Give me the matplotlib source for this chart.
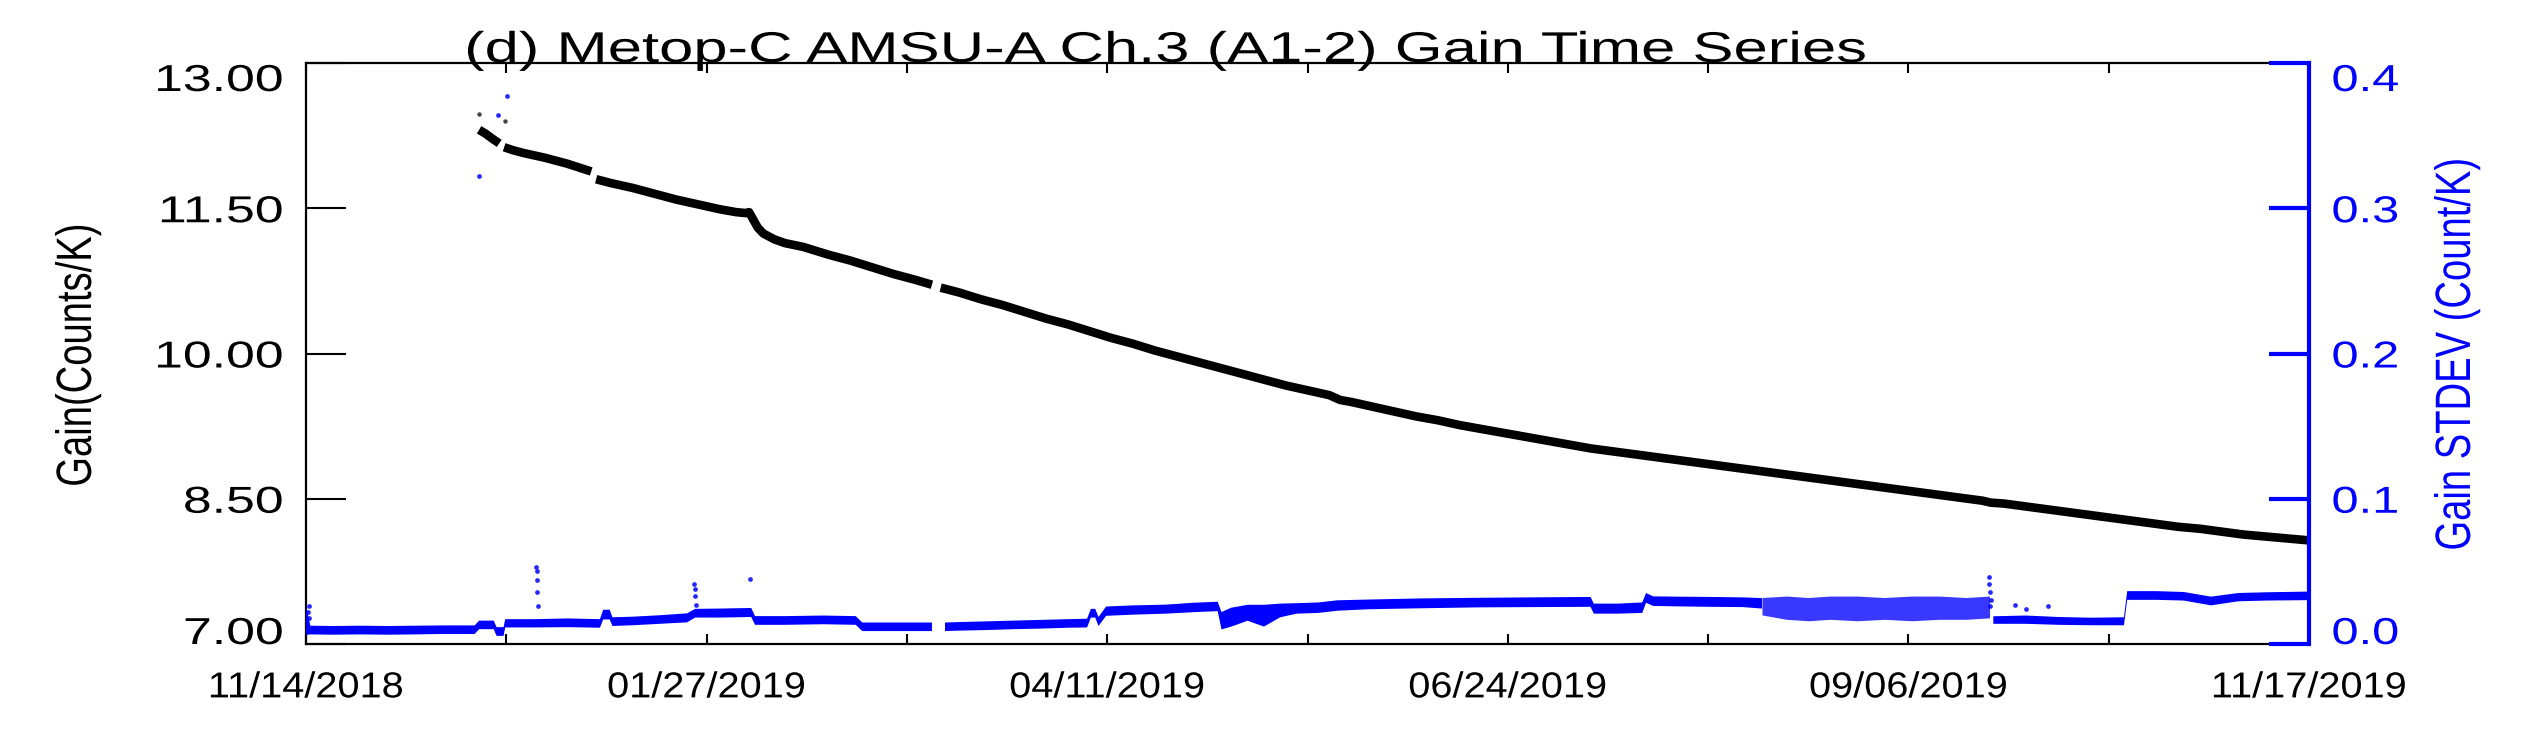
import numpy as np
import matplotlib
matplotlib.use("Agg")
import matplotlib.pyplot as plt
import matplotlib.patheffects as pe
from matplotlib.transforms import Affine2D

nan = float("nan")

# ---------------- data (days since 11/14/2018) ----------------
span_days = 368
date_labels = ["11/14/2018", "01/27/2019", "04/11/2019", "06/24/2019", "09/06/2019", "11/17/2019"]
gain_ticks = [7.0, 8.5, 10.0, 11.5, 13.0]
gain_tick_labels = ["7.00", "8.50", "10.00", "11.50", "13.00"]
std_ticks = [0.0, 0.1, 0.2, 0.3, 0.4]
std_tick_labels = ["0.0", "0.1", "0.2", "0.3", "0.4"]

title = "(d) Metop-C AMSU-A Ch.3 (A1-2) Gain Time Series"
ylabel_left = "Gain(Counts/K)"
ylabel_right = "Gain STDEV (Count/K)"

# Gain (black)
gain_days = [31.8, 33.0, 34.2, 35.5, 35.9, 36.4, 38, 40, 44, 48, 52.4, 52.9, 53.3, 56, 60, 64, 68, 72, 76,
             79, 80.8, 81.4, 82.0, 83.0, 84.0, 86, 88, 91.4, 96, 100, 104, 108, 112, 115, 115.8, 116.6,
             120, 124, 128, 132, 136, 140, 144, 148, 152, 156, 160, 164, 168, 172, 176, 180, 184, 188,
             190, 192, 196, 200, 204, 208, 212, 216, 220, 224, 228, 232, 236, 240, 244, 248, 252, 256,
             260, 264, 268, 272, 276, 280, 284, 288, 292, 296, 300, 304, 308, 309.5, 312, 316, 320, 324,
             328, 332, 336, 340, 344, 348, 352, 356, 360, 364, 368]
gain_vals = [12.31, 12.27, 12.22, 12.17, nan, 12.13, 12.10, 12.07, 12.02, 11.96, 11.88, nan, 11.80, 11.76,
             11.71, 11.65, 11.59, 11.54, 11.49, 11.46, 11.45, 11.46, 11.40, 11.30, 11.24, 11.18, 11.14,
             11.10, 11.02, 10.96, 10.89, 10.82, 10.76, 10.71, nan, 10.68, 10.63, 10.56, 10.50, 10.43,
             10.36, 10.30, 10.23, 10.16, 10.10, 10.03, 9.97, 9.91, 9.85, 9.79, 9.73, 9.67, 9.62, 9.57,
             9.52, 9.50, 9.45, 9.40, 9.35, 9.31, 9.26, 9.22, 9.18, 9.14, 9.10, 9.06, 9.02, 8.99, 8.96,
             8.93, 8.90, 8.87, 8.84, 8.81, 8.78, 8.75, 8.72, 8.69, 8.66, 8.63, 8.60, 8.57, 8.54, 8.51,
             8.48, 8.46, 8.45, 8.42, 8.39, 8.36, 8.33, 8.30, 8.27, 8.24, 8.21, 8.19, 8.16, 8.13, 8.11,
             8.09, 8.07]
gain_out_days = [31.8, 36.6]
gain_out_vals = [12.47, 12.40]

# Gain STDEV (blue) band: lower / upper envelope
std_days = [0, 0.8, 5, 10, 15, 20, 25, 31, 31.8, 34.5, 35.0, 36.3, 36.6, 42, 48, 54, 54.6, 55.8, 56.3,
            60, 65, 70, 71.5, 76, 81.8, 82.5, 88, 95, 101, 102.2, 106, 110, 115, 115.6, 117.4, 120,
            125, 130, 135, 140, 143.5, 144.2, 145, 145.6, 147, 152, 158, 163, 167.5, 168.2, 170, 173,
            176, 179, 182, 186, 189.5, 195, 205, 215, 225, 236, 236.6, 241, 245.5, 246.2, 247.5, 252,
            258, 264, 267.5, 309.5, 310, 316, 322, 328, 334, 334.6, 340, 345, 350, 355, 360, 368]
std_low = [0.0063, 0.0066, 0.0064, 0.0066, 0.0064, 0.0066, 0.0069, 0.0069, 0.0102, 0.0102, 0.0056, 0.0056,
           0.0114, 0.0114, 0.0116, 0.0112, 0.0169, 0.0169, 0.0124, 0.0129, 0.0139, 0.0149, 0.0182,
           0.0182, 0.0186, 0.0132, 0.0132, 0.0136, 0.0132, 0.0089, 0.0089, 0.0089, 0.0089, nan,
           0.0089, 0.0092, 0.0096, 0.0102, 0.0106, 0.0112, 0.0114, 0.0182, 0.0182, 0.0124, 0.0194,
           0.0202, 0.0209, 0.0219, 0.0226, 0.0100, 0.0120, 0.0160, 0.0120, 0.0184, 0.0209, 0.0214,
           0.0229, 0.0239, 0.0246, 0.0252, 0.0254, 0.0256, 0.0209, 0.0209, 0.0214, 0.0284, 0.0262,
           0.0259, 0.0256, 0.0254, 0.0244, nan, 0.0139, 0.0139, 0.0132, 0.0129, 0.0129, 0.0304,
           0.0304, 0.0299, 0.0266, 0.0294, 0.0299, 0.0302]
std_high = [0.0270, 0.0126, 0.0124, 0.0126, 0.0124, 0.0126, 0.0128, 0.0128, 0.0161, 0.0161, 0.0116, 0.0116,
            0.0171, 0.0171, 0.0176, 0.0171, 0.0236, 0.0236, 0.0184, 0.0188, 0.0198, 0.0211, 0.0242,
            0.0244, 0.0248, 0.0192, 0.0192, 0.0196, 0.0192, 0.0148, 0.0148, 0.0148, 0.0148, nan,
            0.0148, 0.0151, 0.0156, 0.0161, 0.0166, 0.0171, 0.0174, 0.0242, 0.0242, 0.0186, 0.0258,
            0.0266, 0.0271, 0.0284, 0.0291, 0.0220, 0.0250, 0.0270, 0.0270, 0.0278, 0.0281, 0.0286,
            0.0301, 0.0306, 0.0314, 0.0318, 0.0321, 0.0324, 0.0278, 0.0278, 0.0286, 0.0351, 0.0328,
            0.0326, 0.0324, 0.0321, 0.0316, nan, 0.0191, 0.0196, 0.0186, 0.0181, 0.0184, 0.0364,
            0.0364, 0.0358, 0.0326, 0.0351, 0.0356, 0.0361]

# noisy (speckled) stretch of the STDEV series
noisy_days = [267.5, 272, 276, 280, 285, 290, 295, 300, 305, 309.3]
noisy_low = [0.0200, 0.0170, 0.0160, 0.0170, 0.0160, 0.0170, 0.0160, 0.0170, 0.0170, 0.0180]
noisy_high = [0.0320, 0.0330, 0.0320, 0.0330, 0.0330, 0.0320, 0.0330, 0.0330, 0.0320, 0.0330]

# isolated STDEV points / spikes
std_out_days = [0.3, 0.5, 0.6, 42.3, 42.4, 42.5, 42.4, 42.6, 71.2, 71.4, 71.5, 71.6, 81.5,
                309.2, 309.3, 309.4, 309.5, 309.4, 31.8, 35.3, 36.9, 314, 316, 320]
std_out_vals = [0.022, 0.026, 0.018, 0.053, 0.050, 0.044, 0.036, 0.026, 0.041, 0.038, 0.033, 0.027,
                0.045, 0.046, 0.041, 0.036, 0.030, 0.026, 0.322, 0.364, 0.377, 0.027, 0.024, 0.026]


# ---------------- helpers ----------------
class Stretch(pe.AbstractPathEffect):
    """Draw text glyphs scaled about an anchor within the glyph extents."""

    def __init__(self, sx=1.0, sy=1.0, ax_anchor=0.5, ay_anchor=0.5):
        super().__init__()
        self.sx, self.sy = sx, sy
        self.axa, self.aya = ax_anchor, ay_anchor

    def draw_path(self, renderer, gc, tpath, affine, rgbFace=None):
        if len(tpath.vertices) == 0:
            return
        ext = tpath.get_extents()
        cx = ext.x0 + self.axa * (ext.x1 - ext.x0)
        cy = ext.y0 + self.aya * (ext.y1 - ext.y0)
        t = Affine2D().translate(-cx, -cy).scale(self.sx, self.sy).translate(cx, cy)
        renderer.draw_path(gc, tpath, t + affine, rgbFace)


plt.rcParams["font.family"] = ["Liberation Sans", "DejaVu Sans"]

W, H = 2524, 735
fig = plt.figure(figsize=(W / 100, H / 100), dpi=100)
L, R, T, B = 306, 2309, 63, 644
ax = fig.add_axes([L / W, 1 - B / H, (R - L) / W, (B - T) / H])
ax2 = ax.twinx()

# black gain
ax.plot(gain_days, gain_vals, color="black", lw=6.2, solid_capstyle="butt", zorder=3)
ax.plot(gain_out_days, gain_out_vals, "o", color="#444444", ms=3.2, mew=0, zorder=3)
ax.set_xlim(0, span_days)
ax.set_ylim(7, 13)

# blue stdev
ax2.fill_between(std_days, std_low, std_high, color="blue", lw=0)
ax2.fill_between(noisy_days, noisy_low, noisy_high, color="blue", alpha=0.78, lw=0)
ax2.plot(std_out_days, std_out_vals, "o", color="blue", ms=3.4, mew=0, alpha=0.85)
ax2.set_ylim(0, 0.4)

# x ticks
major = np.linspace(0, span_days, len(date_labels))
minor = (major[:-1] + major[1:]) / 2
ax.set_xticks(major)
ax.set_xticklabels(date_labels)
ax.set_xticks(minor, minor=True)
ax.tick_params(axis="x", which="both", direction="in", top=True, bottom=True,
               length=7.5, width=1.5, labelsize=26, pad=19)

# left y ticks
ax.set_yticks(gain_ticks)
ax.set_yticklabels(gain_tick_labels)
ax.tick_params(axis="y", which="both", direction="in", left=True, right=False,
               length=28.8, width=1.5, labelsize=27, pad=16.5)
ax.yaxis.set_minor_locator(matplotlib.ticker.NullLocator())

# right y ticks
ax2.set_yticks(std_ticks)
ax2.set_yticklabels(std_tick_labels)
ax2.tick_params(axis="y", which="both", direction="in", length=28.8, width=3,
                color="blue", labelcolor="blue", labelsize=27, pad=16.5)

# spines
for s in ["left", "top", "bottom"]:
    ax.spines[s].set_linewidth(1.6)
    ax.spines[s].set_color("black")
ax.spines["right"].set_visible(False)
for s in ["left", "top", "bottom"]:
    ax2.spines[s].set_visible(False)
ax2.spines["right"].set_color("blue")
ax2.spines["right"].set_linewidth(3)

# label alignment + stretch
ylabs = ax.get_yticklabels()
for lbl in ylabs:
    lbl.set_path_effects([Stretch(1.38, 1.0, 1.0, 0.5)])
ylabs[0].set_va("baseline")
ylabs[-1].set_va("top")
ylabs2 = ax2.get_yticklabels()
for lbl in ylabs2:
    lbl.set_path_effects([Stretch(1.3, 1.0, 0.0, 0.5)])
ylabs2[0].set_va("baseline")
ylabs2[-1].set_va("top")
for lbl in ax.get_xticklabels():
    lbl.set_path_effects([Stretch(1.1, 1.0, 0.5, 0.5)])

fig.text(1165 / W, 1 - 62 / H, title, ha="center", va="baseline", fontsize=31,
         path_effects=[Stretch(1.43, 1.0, 0.5, 0.5)])
fig.text(78 / W, 1 - 355 / H, ylabel_left, rotation=90, ha="center", va="center",
         fontsize=27.5, path_effects=[Stretch(1.0, 1.3, 0.5, 0.5)])
fig.text(2457 / W, 1 - 354 / H, ylabel_right, rotation=90, ha="center", va="center",
         fontsize=27.5, color="blue", path_effects=[Stretch(1.0, 1.3, 0.5, 0.5)])

fig.savefig("out.png", dpi=100)
